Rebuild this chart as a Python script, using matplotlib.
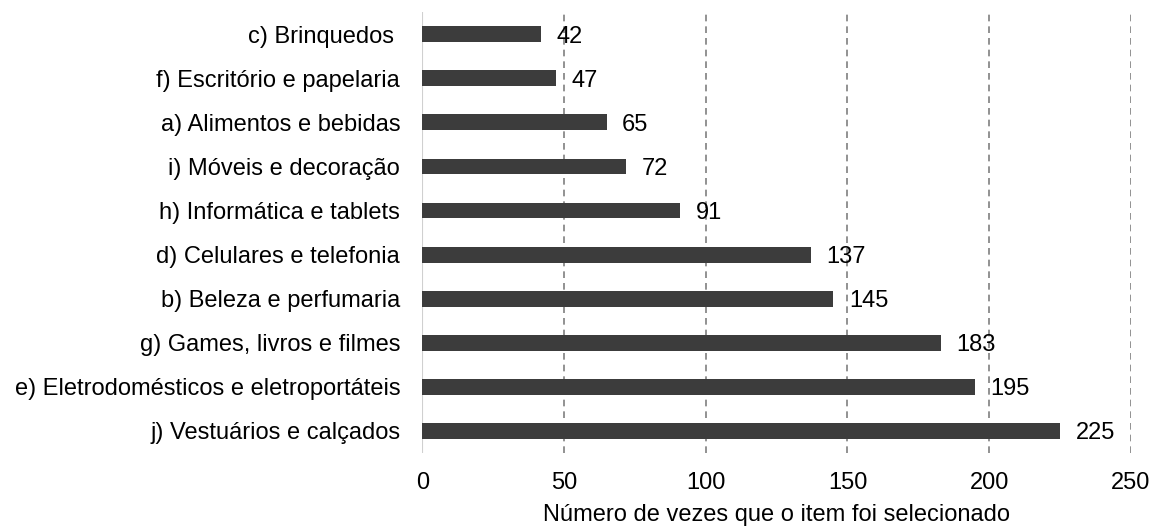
import matplotlib.pyplot as plt

plt.rcParams['font.family'] = ['Liberation Sans', 'DejaVu Sans']

# categories from bottom to top
categories = ['j) Vestuários e calçados',
              'e) Eletrodomésticos e eletroportáteis',
              'g) Games, livros e filmes',
              'b) Beleza e perfumaria',
              'd) Celulares e telefonia',
              'h) Informática e tablets',
              'i) Móveis e decoração',
              'a) Alimentos e bebidas',
              'f) Escritório e papelaria',
              'c) Brinquedos ']
counts = [225, 195, 183, 145, 137, 91, 72, 65, 47, 42]
xticks = [0, 50, 100, 150, 200, 250]

fig = plt.figure(figsize=(11.54, 5.28), dpi=100)
ax = fig.add_axes([0.366, 0.142, 0.614, 0.835])

ypos = range(len(categories))
ax.barh(ypos, counts, height=0.36, color='#3c3c3c', zorder=3)

for y, v in zip(ypos, counts):
    ax.text(v + 5.5, y, str(v), va='center_baseline', ha='left', fontsize=17, color='black', zorder=4)

ax.set_xlim(0, 250)
ax.set_ylim(-0.5, len(categories) - 0.5)
ax.set_xticks(xticks)
ax.set_yticks(list(ypos))
ax.set_yticklabels(categories)
ax.tick_params(axis='both', length=0, labelsize=17)
ax.tick_params(axis='x', pad=14)
ax.tick_params(axis='y', pad=16)

ax.grid(axis='x', color='#7f7f7f', linestyle=(0, (4, 3)), linewidth=1.2, zorder=1)
ax.axvline(0, color='#d0d0d0', linewidth=1.5, zorder=2)

for s in ax.spines.values():
    s.set_visible(False)

ax.set_xlabel('Número de vezes que o item foi selecionado', fontsize=17, labelpad=7)

fig.savefig('out.png', dpi=100)
